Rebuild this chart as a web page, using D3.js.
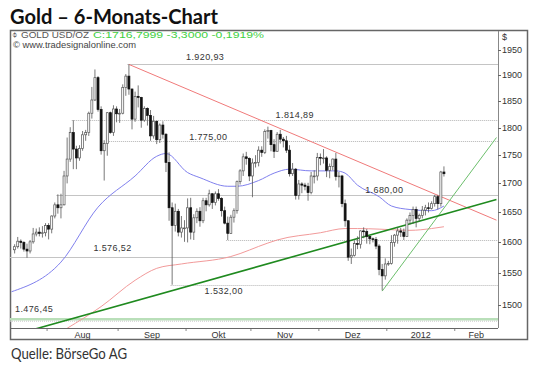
<!DOCTYPE html>
<html lang="de">
<head>
<meta charset="utf-8">
<title>Gold – 6-Monats-Chart</title>
<script src="https://cdn.jsdelivr.net/npm/d3@7"></script>
<style>
body { margin: 0; background: #fff; }
svg text { font-family: "Liberation Sans", Arial, sans-serif; }
</style>
</head>
<body>
<script>
// daily candles, [open, high, low, close], one array per month
var jul11 = [
  [1588,1597,1582,1593],[1593,1609,1590,1602],[1602,1605,1590,1600],[1600,1602,1585,1589],
  [1589,1598,1575,1586],[1586,1604,1582,1601],[1601,1624,1598,1614],[1614,1623,1610,1617],
  [1617,1625,1610,1615],[1615,1627,1608,1616],[1616,1632,1610,1628]
];
var aug11 = [
  [1628,1632,1605,1622],[1622,1645,1615,1644],[1644,1667,1640,1663],[1663,1681,1648,1658],
  [1658,1682,1640,1663],[1663,1722,1662,1713],[1713,1782,1700,1743],[1743,1801,1738,1791],
  [1791,1814,1725,1761],[1761,1767,1725,1745],[1745,1768,1740,1762],[1762,1794,1758,1787],
  [1787,1796,1776,1791],[1791,1830,1785,1827],[1827,1877,1817,1852],[1852,1911,1850,1895],
  [1895,1898,1830,1834],[1834,1840,1751,1758],[1758,1777,1705,1771],[1771,1829,1749,1828],
  [1828,1830,1789,1791],[1791,1842,1785,1835],[1835,1840,1810,1826]
];
var sep11 = [
  [1826,1835,1809,1827],[1827,1882,1825,1876],[1876,1902,1860,1898],[1898,1921,1862,1873],
  [1873,1874,1797,1816],[1816,1868,1811,1859],[1859,1880,1838,1857],[1857,1858,1800,1814],
  [1814,1840,1811,1836],[1836,1838,1804,1823],[1823,1833,1776,1785],[1785,1822,1780,1812],
  [1812,1813,1770,1778],[1778,1808,1772,1805],[1805,1812,1780,1788],[1788,1790,1720,1737],
  [1737,1755,1636,1658],[1658,1667,1532,1628],[1628,1665,1618,1652],[1652,1656,1610,1617],
  [1617,1644,1608,1624],[1624,1637,1601,1624]
];
var oct11 = [
  [1624,1674,1600,1658],[1658,1675,1605,1617],[1617,1647,1604,1641],[1641,1657,1632,1652],
  [1652,1659,1626,1636],[1636,1675,1632,1670],[1670,1675,1652,1663],[1663,1689,1660,1682],
  [1682,1683,1656,1667],[1667,1686,1662,1682],[1682,1690,1670,1674],[1674,1676,1643,1653],
  [1653,1660,1630,1632],[1632,1643,1604,1615],[1615,1646,1614,1642],[1642,1657,1633,1653],
  [1653,1705,1648,1703],[1703,1725,1698,1722],[1722,1753,1713,1747],[1747,1756,1733,1744],
  [1744,1746,1704,1713]
];
var nov11 = [
  [1713,1744,1676,1736],[1736,1750,1728,1737],[1737,1766,1730,1759],[1759,1766,1747,1755],
  [1755,1797,1752,1793],[1793,1802,1780,1795],[1795,1796,1757,1769],[1769,1779,1745,1757],
  [1757,1792,1756,1788],[1788,1796,1771,1779],[1779,1783,1764,1776],[1776,1785,1754,1759],
  [1759,1768,1712,1717],[1717,1736,1713,1725],[1725,1727,1672,1679],[1679,1706,1672,1699],
  [1699,1702,1683,1697],[1697,1701,1688,1695],[1695,1701,1670,1684],[1684,1720,1681,1713],
  [1713,1723,1700,1713],[1713,1754,1705,1746]
];
var dec11 = [
  [1746,1753,1732,1745],[1745,1761,1735,1745],[1745,1748,1711,1723],[1723,1735,1709,1730],
  [1730,1744,1723,1743],[1743,1754,1705,1712],[1712,1720,1693,1713],[1713,1715,1659,1665],
  [1665,1672,1626,1636],[1636,1637,1570,1576],[1576,1590,1565,1579],[1579,1603,1577,1598],
  [1598,1610,1589,1597],[1597,1620,1590,1619],[1619,1625,1607,1618],[1618,1622,1598,1610],
  [1610,1611,1597,1606],[1606,1608,1600,1605],[1605,1609,1589,1594],[1594,1597,1547,1556],
  [1556,1565,1523,1546],[1546,1574,1540,1565]
];
var jan12 = [
  [1565,1570,1562,1566],[1566,1612,1564,1600],[1600,1614,1593,1612],[1612,1625,1598,1619],
  [1619,1624,1609,1617],[1617,1623,1604,1610],[1610,1640,1609,1637],[1637,1650,1630,1645],
  [1645,1660,1631,1655],[1655,1660,1625,1640],[1640,1648,1635,1645],[1645,1661,1640,1654],
  [1654,1663,1645,1658],[1658,1667,1650,1657],[1657,1669,1655,1665],[1665,1680,1660,1677],
  [1677,1680,1655,1665],[1665,1722,1660,1720],[1720,1730,1712,1717]
];
var firstBar = "2011-07-15";
var axisFrom = "2011-07-14", axisTo = "2012-02-20";

// 50-day average (blue) and 200-day average (red)
var ma50Dates = ["2011-07-14","2011-08-05","2011-08-23","2011-09-08","2011-09-19","2011-09-22",
  "2011-10-03","2011-10-07","2011-10-20","2011-10-25","2011-11-03","2011-11-10","2011-11-17",
  "2011-11-28","2011-12-08","2011-12-13","2011-12-19","2011-12-28","2012-01-03","2012-01-11",
  "2012-01-20","2012-01-26"];
var ma50Values = [1521,1568,1659,1713,1748,1753,1719,1710,1695,1695,1705,1718,1725,
  1722,1722,1718,1697,1677,1661,1655,1653,1661];
var ma200Dates = ["2011-08-09","2011-08-24","2011-09-08","2011-09-19","2011-09-29","2011-10-21",
  "2011-11-08","2011-11-11","2011-12-01","2011-12-13","2011-12-19","2011-12-28","2012-01-11",
  "2012-01-20","2012-01-26"];
var ma200Values = [1465,1498,1539,1558,1565,1577,1599,1604,1616,1623,1623,1622,1620,1623,1626];

// trend lines [date, price]
var trendRed = [["2011-09-06",1920.93],["2012-02-20",1637]];
var trendGreen = [["2011-07-25",1463],["2012-02-20",1672]];
var trendSteep = [["2011-12-29",1522],["2012-02-20",1782]];

// horizontal levels
var levelValues = [1920.93, 1814.89, 1775.00, 1680.00, 1604.00, 1576.52, 1532.00];
var levelFrom   = ["2011-09-06","2011-08-11","2011-08-29","2011-08-04","2011-10-20","2011-07-14","2011-09-26"];
var levelDotted = [false, true, true, false, true, false, true];
var levelLabeled = [true, true, true, true, false, true, true];
var labelAt = ["2011-10-03","2011-11-11","2011-10-04","2011-12-22",null,"2011-08-22","2011-10-11"];
var supportLevel = 1476.45;

var priceTicks = [1500,1550,1600,1650,1700,1750,1800,1850,1900,1950];
var monthNames = ["Aug","Sep","Okt","Nov","Dez","2012","Feb"];

var W = 540, H = 365;
var plot = { left: 10, right: 498, top: 31, bottom: 328 };

var parse = d3.timeParse("%Y-%m-%d");
var key = d3.timeFormat("%Y-%m-%d");
function weekdays(a, b) {
  return d3.timeDay.range(parse(a), d3.timeDay.offset(parse(b), 1))
    .filter(function(d) { return d.getDay() % 6 !== 0; });
}
var axisDays = weekdays(axisFrom, axisTo);
var rows = [].concat(jul11, aug11, sep11, oct11, nov11, dec11, jan12);
var barDays = weekdays(firstBar, "2012-12-31").slice(0, rows.length);
var candles = rows.map(function(r, i) {
  return { date: key(barDays[i]), o: r[0], h: r[1], l: r[2], c: r[3] };
});

var de = d3.formatLocale({ decimal: ",", thousands: ".", grouping: [3], currency: ["", "€"] });
var fmtLevel = de.format(",.2f");

var x = d3.scaleBand().domain(axisDays.map(key)).range([plot.left, plot.right]);
var bw = x.bandwidth();
function cx(d) { return x(d) + bw / 2; }
var y = d3.scaleLog().domain([1465.4, 1988]).range([plot.bottom, plot.top]);

var svg = d3.select("body").append("svg").attr("width", W).attr("height", H);

svg.append("defs").append("clipPath").attr("id", "clip")
  .append("rect").attr("x", plot.left).attr("y", plot.top)
  .attr("width", plot.right - plot.left).attr("height", plot.bottom - plot.top);

// title
svg.append("text").attr("x", 10).attr("y", 24)
  .attr("font-size", 20).attr("font-weight", "bold").attr("fill", "#111")
  .attr("textLength", 208).attr("lengthAdjust", "spacingAndGlyphs")
  .style("font-family", "Lato, 'Liberation Sans', sans-serif")
  .text("Gold – 6-Monats-Chart");

// frame
svg.append("rect").attr("x", 10.5).attr("y", 30.5).attr("width", 517).attr("height", 309)
  .attr("fill", "none").attr("stroke", "#666").attr("stroke-width", 1.5);
svg.append("line").attr("x1", plot.right + 0.5).attr("x2", plot.right + 0.5)
  .attr("y1", plot.top).attr("y2", plot.bottom).attr("stroke", "#888");
svg.append("line").attr("x1", plot.left).attr("x2", plot.right)
  .attr("y1", plot.bottom + 0.5).attr("y2", plot.bottom + 0.5).attr("stroke", "#666");

var g = svg.append("g").attr("clip-path", "url(#clip)");

// support band
g.append("line").attr("x1", plot.left).attr("x2", plot.right)
  .attr("y1", y(supportLevel) - 1.5).attr("y2", y(supportLevel) - 1.5)
  .attr("stroke", "#b9dfb9").attr("stroke-width", 2.5);
g.append("line").attr("x1", plot.left).attr("x2", plot.right)
  .attr("y1", y(supportLevel) + 0.5).attr("y2", y(supportLevel) + 0.5)
  .attr("stroke", "#c9c9c9").attr("stroke-dasharray", "1,1");

// horizontal levels
levelValues.forEach(function(v, i) {
  g.append("line")
    .attr("x1", x(levelFrom[i])).attr("x2", plot.right)
    .attr("y1", Math.round(y(v)) + 0.5).attr("y2", Math.round(y(v)) + 0.5)
    .attr("stroke", levelDotted[i] ? "#b4b4b4" : "#c4c4c4")
    .attr("stroke-dasharray", levelDotted[i] ? "1,1" : null);
});

// moving averages
var maLine = d3.line()
  .x(function(d) { return cx(d[0]); })
  .y(function(d) { return y(d[1]); })
  .curve(d3.curveMonotoneX);
g.append("path").datum(d3.zip(ma200Dates, ma200Values)).attr("d", maLine)
  .attr("fill", "none").attr("stroke", "#f29a9a").attr("stroke-width", 1);
g.append("path").datum(d3.zip(ma50Dates, ma50Values)).attr("d", maLine)
  .attr("fill", "none").attr("stroke", "#8080ee").attr("stroke-width", 1);

// trend lines
var tl = d3.line().x(function(d) { return cx(d[0]); }).y(function(d) { return y(d[1]); });
g.append("path").datum(trendRed).attr("d", tl).attr("stroke", "#f07a7a").attr("fill", "none");
g.append("path").datum(trendSteep).attr("d", tl).attr("stroke", "#6cbf6c").attr("fill", "none");
g.append("path").datum(trendGreen).attr("d", tl).attr("stroke", "#1f8a1f")
  .attr("stroke-width", 1.6).attr("fill", "none");

// candles
var c = g.selectAll("g.candle").data(candles).enter().append("g").attr("class", "candle");
c.append("line")
  .attr("x1", function(d) { return cx(d.date); }).attr("x2", function(d) { return cx(d.date); })
  .attr("y1", function(d) { return y(d.h); }).attr("y2", function(d) { return y(d.l); })
  .attr("stroke", "#555").attr("stroke-width", 0.8);
c.append("rect")
  .attr("x", function(d) { return cx(d.date) - 1; })
  .attr("width", 2)
  .attr("y", function(d) { return y(Math.max(d.o, d.c)); })
  .attr("height", function(d) { return Math.max(0.8, Math.abs(y(d.o) - y(d.c))); })
  .attr("fill", function(d) { return d.c >= d.o ? "#fff" : "#111"; })
  .attr("stroke", function(d) { return d.c >= d.o ? "#555" : "#111"; })
  .attr("stroke-width", 0.7);

// level labels
var lblFont = 9, lblSpacing = 0.4;
levelValues.forEach(function(v, i) {
  if (!levelLabeled[i]) return;
  var dy = { 0: -4, 5: -6, 6: 9 }[i];
  g.append("text").attr("x", x(labelAt[i])).attr("y", y(v) + (dy === undefined ? -1.5 : dy))
    .attr("font-size", lblFont).attr("letter-spacing", lblSpacing).attr("fill", "#333")
    .text(fmtLevel(v));
});
g.append("text").attr("x", 15).attr("y", y(supportLevel) - 8.5)
  .attr("font-size", lblFont).attr("letter-spacing", lblSpacing).attr("fill", "#333")
  .text(fmtLevel(supportLevel));

// header inside frame
svg.append("text").attr("x", 12).attr("y", 38).attr("font-size", 9).attr("fill", "#666").text("⌽");
svg.append("text").attr("x", 21).attr("y", 38).attr("font-size", 9).attr("fill", "#555")
  .attr("textLength", 68).attr("lengthAdjust", "spacingAndGlyphs").text("GOLD USD/OZ");
svg.append("text").attr("x", 93).attr("y", 38).attr("font-size", 9).attr("fill", "#3fcf3f")
  .attr("textLength", 171).attr("lengthAdjust", "spacingAndGlyphs")
  .text("C:1716,7999 -3,3000 -0,1919%");
svg.append("text").attr("x", 13).attr("y", 47.5).attr("font-size", 9).attr("fill", "#444")
  .attr("textLength", 123).attr("lengthAdjust", "spacingAndGlyphs")
  .text("© www.tradesignalonline.com");

// price axis
svg.append("text").attr("x", 502).attr("y", 40).attr("font-size", 9).attr("fill", "#333").text("$");
var ya = svg.selectAll("g.ytick").data(priceTicks).enter().append("g").attr("class", "ytick");
ya.append("line").attr("x1", plot.right).attr("x2", plot.right + 3)
  .attr("y1", function(d) { return Math.round(y(d)) + 0.5; })
  .attr("y2", function(d) { return Math.round(y(d)) + 0.5; })
  .attr("stroke", "#666");
ya.append("text").attr("x", plot.right + 4).attr("y", function(d) { return y(d) + 3; })
  .attr("font-size", 9).attr("fill", "#333").text(function(d) { return d; });

// month axis: ticks at month starts, labels centred in each month
var starts = [];
axisDays.forEach(function(d, i) {
  if (i > 0 && d.getMonth() !== axisDays[i - 1].getMonth()) starts.push(key(d));
});
starts.forEach(function(s, i) {
  svg.append("line").attr("x1", x(s)).attr("x2", x(s))
    .attr("y1", plot.bottom + 1).attr("y2", plot.bottom + 3).attr("stroke", "#888");
  var nx = i + 1 < starts.length ? x(starts[i + 1]) : plot.right;
  svg.append("text").attr("x", (x(s) + nx) / 2).attr("y", 337.5)
    .attr("text-anchor", "middle").attr("font-size", 9).attr("fill", "#333")
    .text(monthNames[i]);
});

// source
svg.append("text").attr("x", 11).attr("y", 358.5)
  .attr("font-size", 15.5).attr("fill", "#333")
  .attr("textLength", 116).attr("lengthAdjust", "spacingAndGlyphs")
  .style("font-family", "Lato, 'Liberation Sans', sans-serif")
  .text("Quelle: BörseGo AG");
</script>
</body>
</html>
